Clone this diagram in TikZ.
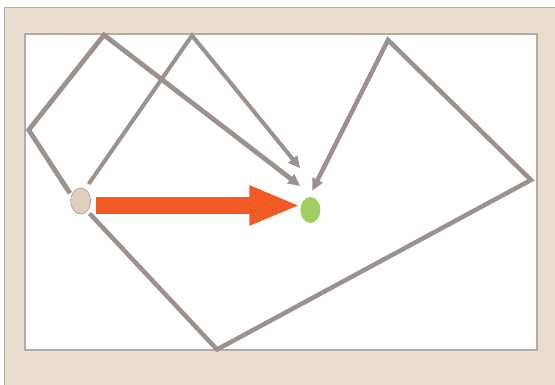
\documentclass[tikz,border=0pt]{standalone}
\usepackage{xcolor}
\usepackage{tikz}
\usetikzlibrary{shapes,arrows.meta,positioning}

\definecolor{mat}{HTML}{EADFCE}
\definecolor{taupe}{HTML}{9B928F}
\definecolor{rim}{HTML}{B3ABA8}
\definecolor{flame}{HTML}{F15A22}
\definecolor{leaf}{HTML}{A2CE5F}
\definecolor{sand}{HTML}{E0CFBA}

\begin{document}
\begin{tikzpicture}[
    x=1pt, y=-1pt,
    dot/.style={ellipse, minimum width=20pt, minimum height=26pt, inner sep=0pt, outer sep=0pt},
    hop/.style={draw=taupe, line width=4.5pt, -{Triangle[length=12pt,width=11pt]}},
    shove/.style={draw=flame, line width=17.6pt, -{Triangle[length=51pt,width=36.3pt]}}
]
\useasboundingbox (0,0) rectangle (555,385);
\fill[white] (0,0) rectangle (555,385);
\draw[rim, fill=mat, line width=1pt] (4.5,7.5) rectangle (562,392);
\draw[rim, fill=white, line width=1.3pt] (25,34) rectangle (537,350);

\node[dot, draw=taupe!80, line width=0.8pt, fill=sand] (src) at (80.7,201) {};
\node[dot, fill=leaf] (tgt) at (310.4,210) {};

% three routes round the board
\draw[hop, line width=4.8pt, shorten <=3pt] (src.150) -- (28.7,130) -- (104,35)
    -- ([xshift=-10.2pt,yshift=11pt]tgt.north);
\draw[hop, line width=4pt, shorten <=6.5pt] (src.70) -- (192,35.5)
    -- ([xshift=-10.2pt,yshift=28.7pt]tgt.north);
\draw[hop, shorten <=3.5pt] (src.-57) -- (217,349.5) -- (531,180) -- (388,40)
    -- ([xshift=1.8pt,yshift=6.3pt]tgt.north);

% direct push
\draw[shove] ([xshift=5.6pt,yshift=-4.5pt]src.east) -- ([yshift=4.5pt]tgt.west);
\end{tikzpicture}
\end{document}
